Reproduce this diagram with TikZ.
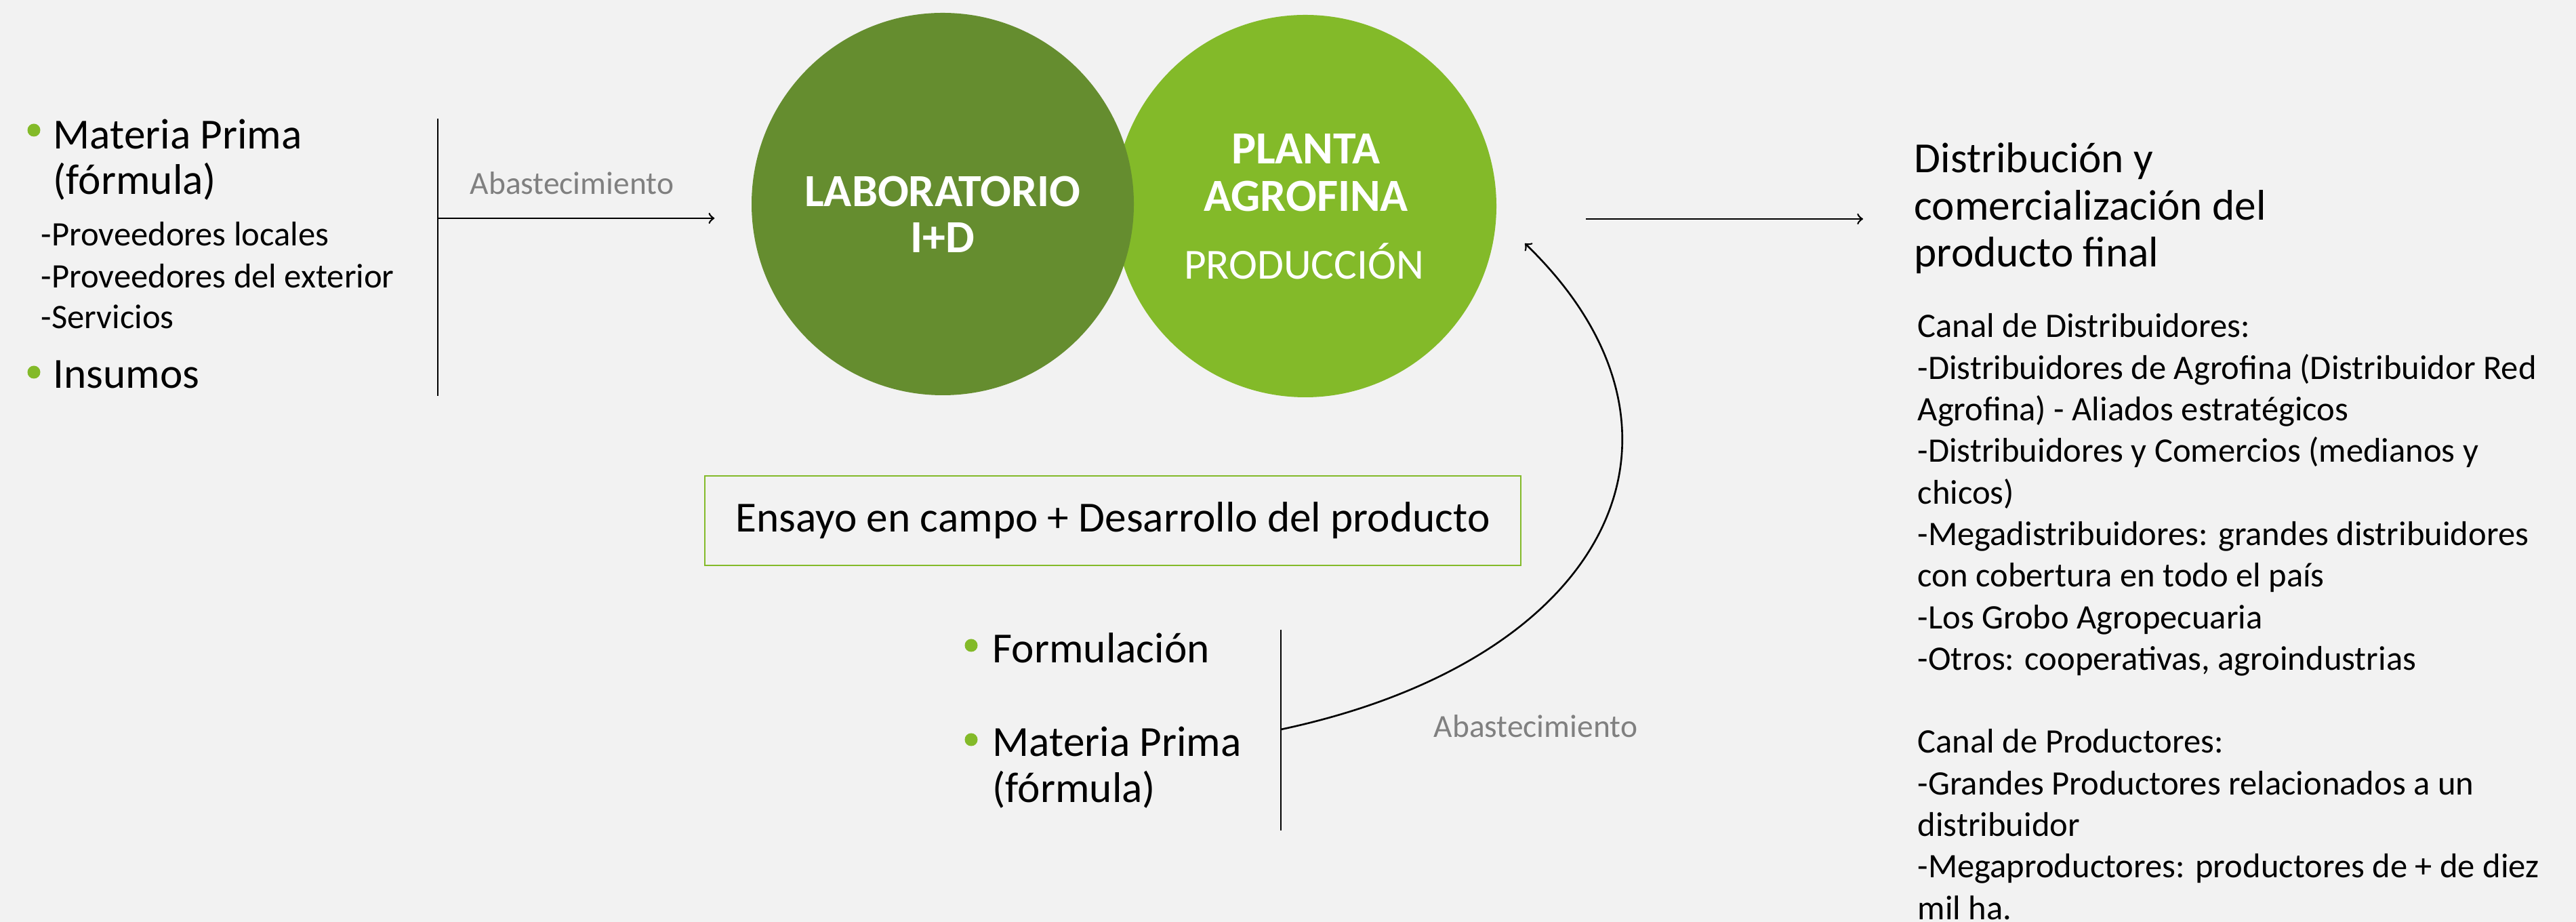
\documentclass[tikz,border=0pt]{standalone}
\usepackage{fontspec}
\setmainfont{Carlito}
\definecolor{agroDark}{RGB}{101,141,47}
\definecolor{agroLight}{RGB}{131,186,41}
\definecolor{agroBg}{RGB}{242,242,242}
\definecolor{agroGray}{RGB}{128,128,128}

\begin{document}
\begin{tikzpicture}
  [every node/.style={inner sep=0pt},
   big/.style={anchor=base west, font=\fontsize{18}{19}\selectfont},
   small/.style={anchor=base west, font=\fontsize{14.4}{17}\selectfont},
   supply/.style={anchor=base west, text=agroGray, font=\fontsize{13.5}{16}\selectfont},
   ball/.style={circle, minimum size=5.64cm},
   title/.style={anchor=base, text=white, font=\fontsize{19.3}{20}\selectfont\bfseries},
   dot/.style={circle, fill=agroLight, minimum size=0.19cm},
   link/.style={line width=0.75pt}]

  \fill[agroBg] (0,0) rectangle (38.01,13.60);
  \useasboundingbox (0,0) rectangle (38.01,13.60);

  % circles
  \node[ball, fill=agroLight] (planta) at (19.26,10.56) {};
  \node[ball, fill=agroDark] (labo) at (13.91,10.59) {};

  \node[title] (labo1) at (13.91,10.55) {LABORATORIO};
  \node[title] (labo2) at (13.91,9.87) {I+D};
  \node[title] (planta1) at (19.27,11.18) {PLANTA};
  \node[title] (planta2) at (19.27,10.48) {AGROFINA};
  \node[anchor=base, text=white, font=\fontsize{18}{19}\selectfont] (planta3) at (19.24,9.48) {PRODUCCIÓN};

  % left list
  \node[dot] (b1) at (0.50,11.68) {};
  \node[big] (mp1) at (0.78,11.40) {Materia Prima};
  \node[big] (mp2) at (0.78,10.73) {(fórmula)};
  \node[small] (pv1) at (0.60,9.97) {-Proveedores locales};
  \node[small] (pv2) at (0.60,9.35) {-Proveedores del exterior};
  \node[small] (pv3) at (0.60,8.75) {-Servicios};
  \node[dot] (b2) at (0.50,8.11) {};
  \node[big] (ins) at (0.78,7.87) {Insumos};

  \coordinate (ltop) at (6.46,11.85);
  \coordinate (lbot) at (6.46,7.76);
  \coordinate (lmid) at (6.46,10.38);
  \draw[link] (ltop) -- (lbot);
  \draw[link,->,shorten >=0.54cm] (lmid) -- (lmid -| labo.west);
  \node[supply] (abas1) at (6.93,10.73) {Abastecimiento};

  % out to distribution
  \coordinate (pout) at (23.40,10.37);
  \coordinate (din) at (27.49,10.37);
  \draw[link,->] (pout) -- (din);

  \foreach \i/\t in {0/{Distribución y}, 1/{comercialización del}, 2/{producto final}}
    \node[big] (dist\i) at (28.24,11.05-0.695*\i) {\t};

  \foreach \i/\t in {0/{Canal de Distribuidores:},
                     1/{-Distribuidores de Agrofina (Distribuidor Red},
                     2/{Agrofina) - Aliados estratégicos},
                     3/{-Distribuidores y Comercios (medianos y},
                     4/{chicos)},
                     5/{-Megadistribuidores: grandes distribuidores},
                     6/{con cobertura en todo el país},
                     7/{-Los Grobo Agropecuaria},
                     8/{-Otros: cooperativas, agroindustrias},
                     10/{Canal de Productores:},
                     11/{-Grandes Productores relacionados a un},
                     12/{distribuidor},
                     13/{-Megaproductores: productores de + de diez},
                     14/{mil ha.}}
    \node[small] (canal\i) at (28.29,8.62-0.613*\i) {\t};

  % field trial box
  \node[draw=agroLight, line width=0.8pt, minimum width=12.04cm, minimum height=1.32cm,
        font=\fontsize{18}{19}\selectfont] (ensayo) at (16.42,5.92)
        {Ensayo en campo + Desarrollo del producto};

  % bottom list
  \node[dot] (b3) at (14.33,4.08) {};
  \node[big] (form) at (14.64,3.82) {Formulación};
  \node[dot] (b4) at (14.33,2.69) {};
  \node[big] (mp3) at (14.64,2.44) {Materia Prima};
  \node[big] (mp4) at (14.64,1.76) {(fórmula)};

  \coordinate (btop) at (18.90,4.31);
  \coordinate (bbot) at (18.90,1.35);
  \coordinate (bmid) at (18.90,2.84);
  \coordinate (ptip) at (22.50,10.01);
  \draw[link] (btop) -- (bbot);
  \draw[link,->] (bmid) .. controls +(12:5) and +(-44:4) .. (ptip);
  \node[supply] (abas2) at (21.15,2.72) {Abastecimiento};
\end{tikzpicture}
\end{document}
